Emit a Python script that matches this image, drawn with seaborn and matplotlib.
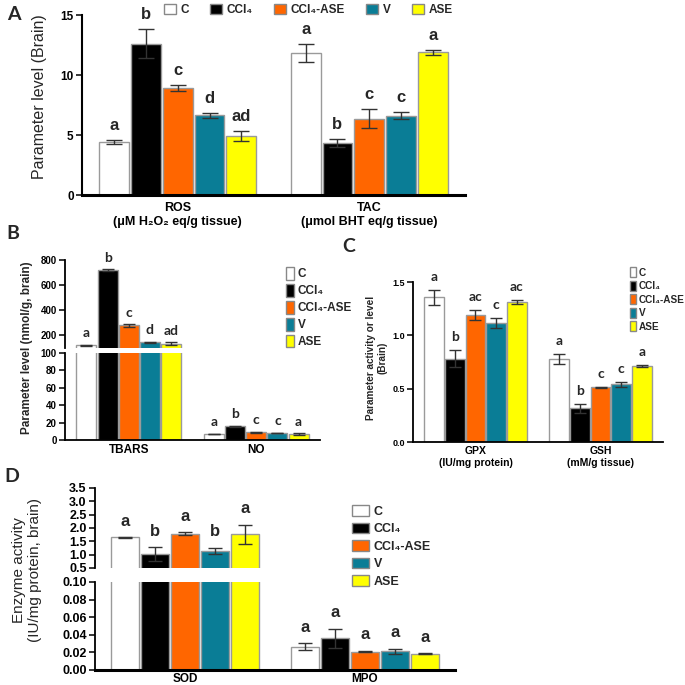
import numpy as np
import pandas as pd
import matplotlib
matplotlib.use("Agg")
import matplotlib.pyplot as plt
import seaborn as sns
from matplotlib.patches import Patch

# ---------------- data ----------------
groups = ["C", "CCl₄", "CCl₄-ASE", "V", "ASE"]
colors = ["#FFFFFF", "#000000", "#FF6600", "#0A7D96", "#FFFF00"]

# Panel A
a_params = ["ROS\n(μM H₂O₂ eq/g tissue)", "TAC\n(μmol BHT eq/g tissue)"]
a_ros = [4.4, 12.6, 8.95, 6.65, 4.9]
a_ros_err = [0.15, 1.2, 0.25, 0.2, 0.4]
a_ros_sig = ["a", "b", "c", "d", "ad"]
a_tac = [11.85, 4.3, 6.35, 6.6, 11.9]
a_tac_err = [0.75, 0.33, 0.8, 0.28, 0.22]
a_tac_sig = ["a", "b", "c", "c", "a"]

# Panel B
b_params = ["TBARS", "NO"]
b_tbars = [120, 720, 280, 145, 135]
b_tbars_err = [4, 5, 10, 5, 10]
b_tbars_sig = ["a", "b", "c", "d", "ad"]
b_no = [7.0, 15.6, 8.8, 8.0, 6.5]
b_no_err = [0.4, 0.5, 0.4, 0.3, 1.0]
b_no_sig = ["a", "b", "c", "c", "a"]

# Panel C
c_params = ["GPX\n(IU/mg protein)", "GSH\n(mM/g tissue)"]
c_gpx = [1.355, 0.78, 1.19, 1.115, 1.31]
c_gpx_err = [0.07, 0.08, 0.045, 0.05, 0.02]
c_gpx_sig = ["a", "b", "ac", "c", "ac"]
c_gsh = [0.778, 0.316, 0.513, 0.54, 0.71]
c_gsh_err = [0.045, 0.04, 0.004, 0.02, 0.008]
c_gsh_sig = ["a", "b", "c", "c", "a"]

# Panel D
d_params = ["SOD", "MPO"]
d_sod = [1.65, 1.02, 1.78, 1.14, 1.76]
d_sod_err = [0.01, 0.26, 0.06, 0.12, 0.37]
d_sod_sig = ["a", "b", "a", "b", "a"]
d_mpo = [0.0266, 0.036, 0.021, 0.0213, 0.0183]
d_mpo_err = [0.004, 0.011, 0.001, 0.003, 0.0005]
d_mpo_sig = ["a", "a", "a", "a", "a"]

# ---------------- style ----------------
sns.set_theme(style="ticks")
plt.rcParams['font.family'] = ['Liberation Sans', 'DejaVu Sans']
NARROW = ['Liberation Sans Narrow', 'Liberation Sans', 'DejaVu Sans']
CAL = ['Lato', 'DejaVu Sans']
SANS = ['Liberation Sans', 'DejaVu Sans']

fig = plt.figure(figsize=(6.85, 6.85), dpi=100)
W = H = 685.0


def px_axes(l, t, r, b):
    return fig.add_axes([l / W, 1 - b / H, (r - l) / W, (b - t) / H])


def make_df(params, vals_list, err_list, sig_list):
    rows = []
    for p, vals, errs, sigs in zip(params, vals_list, err_list, sig_list):
        for g, v, e, s in zip(groups, vals, errs, sigs):
            rows.append(dict(param=p, group=g, value=v, err=e, sig=s))
    return pd.DataFrame(rows)


def draw(ax, df, params, cap=5, lw=1.0):
    sns.barplot(data=df, x="param", y="value", hue="group", order=params,
                hue_order=groups, palette=colors, saturation=1, width=0.83,
                gap=0.06, edgecolor="#9a9a9a", linewidth=lw, errorbar=None,
                legend=False, ax=ax)
    patches = sorted(ax.patches, key=lambda p: p.get_x())
    xs = [p.get_x() + p.get_width() / 2 for p in patches]
    hs = [p.get_height() for p in patches]
    ax.errorbar(xs, hs, yerr=df["err"].values, fmt="none", ecolor="#333333",
                elinewidth=1, capsize=cap, capthick=1, zorder=5)
    ax.set_xlabel("")
    ax.set_ylabel("")
    ax.set_xlim(-0.5, 1.5)
    return xs


def letters(ax, xs, df, font, size, off=5):
    lo, hi = ax.get_ylim()
    for x, v, e, s in zip(xs, df["value"], df["err"], df["sig"]):
        top = v + e
        if lo <= top <= hi:
            ax.annotate(s, (x, top), xytext=(0, off), textcoords="offset points",
                        ha="center", va="bottom", fontsize=size,
                        fontweight="bold", family=font, annotation_clip=False)


def style_axis(ax, yfs, xfs, lw_left=1.3, lw_bottom=1.3):
    for s in ["top", "right"]:
        ax.spines[s].set_visible(False)
    ax.spines["left"].set_linewidth(lw_left)
    ax.spines["bottom"].set_linewidth(lw_bottom)
    ax.spines["left"].set_color("black")
    ax.spines["bottom"].set_color("black")
    ax.tick_params(axis="y", direction="out", length=4, width=1.1, labelsize=yfs, colors="black", pad=2)
    ax.tick_params(axis="x", direction="out", length=4, width=1.1, labelsize=xfs, colors="black")
    for t in ax.get_yticklabels() + ax.get_xticklabels():
        t.set_fontweight("bold")


def legend_handles():
    return [Patch(facecolor=c, edgecolor="#888888", linewidth=1) for c in colors]


# ---------------- Panel A ----------------
dfA = make_df(a_params, [a_ros, a_tac], [a_ros_err, a_tac_err], [a_ros_sig, a_tac_sig])
axA = px_axes(82, 15, 465, 195)
xsA = draw(axA, dfA, a_params, cap=6)
axA.set_ylim(0, 15)
axA.set_yticks([0, 5, 10, 15])
style_axis(axA, 8.5, 9, lw_left=1.5, lw_bottom=2.2)
axA.tick_params(axis="x", length=0, pad=5)
letters(axA, xsA, dfA, NARROW, 12, off=5)
fig.text(40 / W, 1 - 97 / H, "Parameter level (Brain)", rotation=90, ha="center",
         va="center", fontsize=11.5, family=NARROW)
fig.legend(legend_handles(), groups, loc="center left", bbox_to_anchor=(158 / W, 1 - 10 / H),
           ncol=5, frameon=False, handlelength=1.0, handleheight=1.0, handletextpad=0.4,
           columnspacing=1.8, borderpad=0, prop=dict(family=SANS, weight="bold", size=8.5))
fig.text(14 / W, 1 - 14 / H, "A", ha="center", va="center", fontsize=14,
         fontweight="bold", family=CAL)

# ---------------- Panel B ----------------
dfB = make_df(b_params, [b_tbars, b_no], [b_tbars_err, b_no_err], [b_tbars_sig, b_no_sig])
axBu = px_axes(65, 260, 320, 348)
axBl = px_axes(65, 353, 320, 440)
xsBu = draw(axBu, dfB, b_params, cap=4)
xsBl = draw(axBl, dfB, b_params, cap=4)
axBu.set_ylim(100, 800)
axBu.set_yticks([200, 400, 600, 800])
axBl.set_ylim(0, 100)
axBl.set_yticks([0, 20, 40, 60, 80, 100])
style_axis(axBu, 7, 8.5)
style_axis(axBl, 7, 8.5)
axBu.spines["bottom"].set_visible(False)
axBu.tick_params(axis="x", bottom=False, labelbottom=False)
axBl.tick_params(axis="x", length=0, pad=3)
letters(axBu, xsBu, dfB, CAL, 10, off=4)
letters(axBl, xsBl, dfB, CAL, 10, off=4)
fig.text(27 / W, 1 - 348 / H, "Parameter level (nmol/g, brain)", rotation=90, ha="center",
         va="center", fontsize=8.5, fontweight="bold", family=SANS)
fig.legend(legend_handles(), groups, loc="upper left", bbox_to_anchor=(280 / W, 1 - 261 / H),
           frameon=False, handlelength=0.7,
           handleheight=1.3, handletextpad=0.3, labelspacing=0.3, borderpad=0,
           prop=dict(family=SANS, weight="bold", size=8.5))
fig.text(13 / W, 1 - 233 / H, "B", ha="center", va="center", fontsize=14,
         fontweight="bold", family=CAL)

# ---------------- Panel C ----------------
dfC = make_df(c_params, [c_gpx, c_gsh], [c_gpx_err, c_gsh_err], [c_gpx_sig, c_gsh_sig])
axC = px_axes(413, 282, 663, 442)
xsC = draw(axC, dfC, c_params, cap=4)
axC.set_ylim(0, 1.5)
axC.set_yticks([0.0, 0.5, 1.0, 1.5])
axC.set_yticklabels(["0.0", "0.5", "1.0", "1.5"])
style_axis(axC, 6.5, 7.5)
axC.tick_params(axis="x", length=0, pad=3)
letters(axC, xsC, dfC, CAL, 10, off=5)
fig.text(377 / W, 1 - 358 / H, "Parameter activity or level\n(Brain)", rotation=90,
         ha="center", va="center", fontsize=7.2, fontweight="bold", family=SANS,
         linespacing=1.2)
fig.legend(legend_handles(), groups, loc="upper left", bbox_to_anchor=(625 / W, 1 - 262 / H),
           frameon=False, handlelength=0.6,
           handleheight=1.2, handletextpad=0.25, labelspacing=0.3, borderpad=0,
           prop=dict(family=SANS, weight="bold", size=7.2))
fig.text(349 / W, 1 - 247 / H, "C", ha="center", va="center", fontsize=14,
         fontweight="bold", family=CAL)

# ---------------- Panel D ----------------
dfD = make_df(d_params, [d_sod, d_mpo], [d_sod_err, d_mpo_err], [d_sod_sig, d_mpo_sig])
axDu = px_axes(95, 488, 455, 568)
axDl = px_axes(95, 582, 455, 670)
xsDu = draw(axDu, dfD, d_params, cap=5)
xsDl = draw(axDl, dfD, d_params, cap=5)
axDu.set_ylim(0.5, 3.5)
axDu.set_yticks([0.5, 1.0, 1.5, 2.0, 2.5, 3.0, 3.5])
axDu.set_yticklabels(["0.5", "1.0", "1.5", "2.0", "2.5", "3.0", "3.5"])
axDl.set_ylim(0, 0.1)
axDl.set_yticks([0.0, 0.02, 0.04, 0.06, 0.08, 0.10])
axDl.set_yticklabels(["0.00", "0.02", "0.04", "0.06", "0.08", "0.10"])
style_axis(axDu, 9, 8.5)
style_axis(axDl, 9, 8.5, lw_bottom=2.2)
axDu.spines["bottom"].set_visible(False)
axDu.tick_params(axis="x", bottom=False, labelbottom=False)
axDl.tick_params(axis="x", length=0, pad=2)
letters(axDu, xsDu, dfD, NARROW, 12, off=6)
letters(axDl, xsDl, dfD, NARROW, 12, off=6)
fig.text(27 / W, 1 - 570 / H, "Enzyme activity\n(IU/mg protein, brain)", rotation=90,
         ha="center", va="center", fontsize=11, family=NARROW, linespacing=1.1)
fig.legend(legend_handles(), groups, loc="upper left", bbox_to_anchor=(346 / W, 1 - 499 / H),
           frameon=False, handlelength=1.3,
           handleheight=0.9, handletextpad=0.4, labelspacing=0.4, borderpad=0,
           prop=dict(family=SANS, weight="bold", size=9))
fig.text(12 / W, 1 - 477 / H, "D", ha="center", va="center", fontsize=14,
         fontweight="bold", family=CAL)

fig.savefig("out.png", dpi=100, facecolor="white")
